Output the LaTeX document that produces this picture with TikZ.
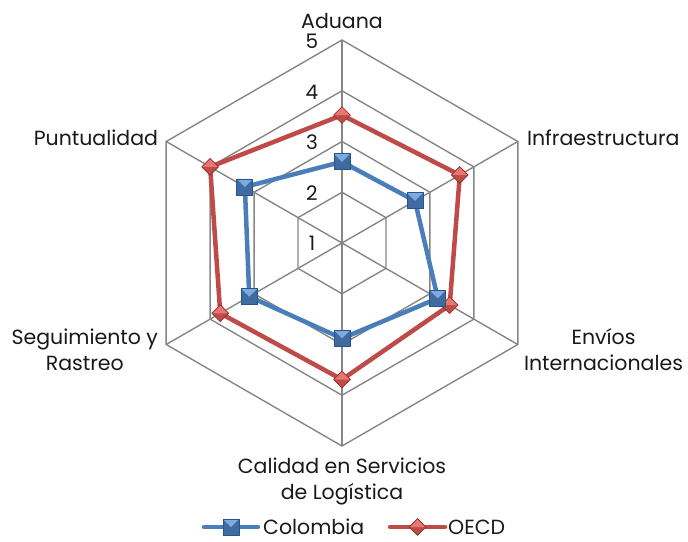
\documentclass[tikz,border=0pt]{standalone}
\usepackage{fontspec}
\setmainfont{Poppins}
\usepackage{tikz}
\usetikzlibrary{shapes.geometric}
\usetikzlibrary{calc}
\usetikzlibrary{positioning}
\definecolor{colblue}{RGB}{74, 126, 187}
\definecolor{colbluedark}{RGB}{40, 84, 142}
\definecolor{colbluelight}{RGB}{125, 170, 225}
\definecolor{oecdred}{RGB}{190, 75, 72}
\definecolor{oecdreddark}{RGB}{145, 45, 43}
\definecolor{oecdredlight}{RGB}{232, 118, 114}
\definecolor{gridgray}{RGB}{134, 134, 134}

\tikzset{
  gridline/.style={draw=gridgray, line width=1.4pt},
  colline/.style={draw=colblue, line width=4.5pt, line join=round},
  oecdline/.style={draw=oecdred, line width=4.5pt, line join=round},
  colmark/.style={rectangle, minimum size=16pt, inner sep=0pt, fill=colblue!85!black,
    draw=colbluedark, line width=0.8pt,
    path picture={\fill[colbluelight] (path picture bounding box.north west)
      -- (path picture bounding box.north east) -- (path picture bounding box.center) -- cycle;}},
  oecdmark/.style={diamond, minimum size=17pt, inner sep=0pt, fill=oecdred,
    draw=oecdreddark, line width=0.6pt,
    path picture={\fill[oecdredlight] (path picture bounding box.west)
      -- (path picture bounding box.north) -- (path picture bounding box.east)
      -- (path picture bounding box.center) -- cycle;}},
  axislabel/.style={font=\fontsize{20.5}{26}\selectfont, align=center, text=black!90, inner sep=0pt},
  ticklabel/.style={font=\fontsize{20}{22}\selectfont, text=black!90, inner sep=0pt},
}

\begin{document}
\begin{tikzpicture}[x=1pt, y=1pt]
            \useasboundingbox (-342,-298) rectangle (346,243);
            % Grid rings (2 to 5)
            \foreach \r in {50.75, 101.5, 152.25, 203}
                \draw[gridline] (90:\r pt) -- (30:\r pt) -- (-30:\r pt) -- (-90:\r pt) -- (-150:\r pt) -- (150:\r pt) -- cycle;
            % Spokes
            \coordinate (v1) at (90:203pt);
            \coordinate (v2) at (30:203pt);
            \coordinate (v3) at (-30:203pt);
            \coordinate (v4) at (-90:203pt);
            \coordinate (v5) at (-150:203pt);
            \coordinate (v6) at (150:203pt);
            \coordinate (ctr) at (0,0);
            \foreach \v in {v1, v2, v3, v4, v5, v6}
                \draw[gridline] (ctr) -- (\v);
            % Tick values
            \node[ticklabel] (t1) at (-30,   0.0) {1};
            \node[ticklabel] (t2) at (-30,  50.0) {2};
            \node[ticklabel] (t3) at (-30, 100.5) {3};
            \node[ticklabel] (t4) at (-30, 151.0) {4};
            \node[ticklabel] (t5) at (-30, 201.5) {5};
            % Category labels
            \node[axislabel, above=11pt of v1]               (aduana) {Aduana};
            \node[axislabel, right=9pt of v2, yshift=4pt]    (infra)  {Infraestructura};
            \node[axislabel, right=6pt of v3, yshift=-5pt]   (envios) {Envíos\\Internacionales};
            \node[axislabel, below=12pt of v4]               (calidad) {Calidad en Servicios\\de Logística};
            \node[axislabel, left=8pt of v5, yshift=-5pt]    (seguim) {Seguimiento y\\Rastreo};
            \node[axislabel, left=8pt of v6, yshift=4pt]     (puntual) {Puntualidad};
            % Data points (value 1 at centre, 50.75pt per unit)
            \coordinate (c1) at (90:{(2.60-1)*50.75pt});
            \coordinate (c2) at (30:{(2.66-1)*50.75pt});
            \coordinate (c3) at (-30:{(3.18-1)*50.75pt});
            \coordinate (c4) at (-90:{(2.88-1)*50.75pt});
            \coordinate (c5) at (-150:{(3.11-1)*50.75pt});
            \coordinate (c6) at (150:{(3.21-1)*50.75pt});
            \coordinate (o1) at (90:{(3.52-1)*50.75pt});
            \coordinate (o2) at (30:{(3.68-1)*50.75pt});
            \coordinate (o3) at (-30:{(3.45-1)*50.75pt});
            \coordinate (o4) at (-90:{(3.69-1)*50.75pt});
            \coordinate (o5) at (-150:{(3.77-1)*50.75pt});
            \coordinate (o6) at (150:{(4.00-1)*50.75pt});
            % OECD
            \draw[oecdline] (o1) -- (o2) -- (o3) -- (o4) -- (o5) -- (o6) -- cycle;
            \foreach \p in {o1, o2, o3, o4, o5, o6}
                \node[oecdmark] at (\p) {};
            % Colombia
            \draw[colline] (c1) -- (c2) -- (c3) -- (c4) -- (c5) -- (c6) -- cycle;
            \foreach \p in {c1, c2, c3, c4, c5, c6}
                \node[colmark] at (\p) {};
            % Legend
            \coordinate (lcA) at (-138,-284);
            \coordinate (lcB) at (-84,-284);
            \coordinate (loA) at (48,-284);
            \coordinate (loB) at (103,-284);
            \draw[colline, line cap=round] (lcA) -- (lcB);
            \node[colmark] (lcm) at ($(lcA)!0.5!(lcB)$) {};
            \node[axislabel, right=5pt of lcB] (lctext) {Colombia};
            \draw[oecdline, line cap=round] (loA) -- (loB);
            \node[oecdmark] (lom) at ($(loA)!0.5!(loB)$) {};
            \node[axislabel, right=3pt of loB] (lotext) {OECD};
\end{tikzpicture}
\end{document}
